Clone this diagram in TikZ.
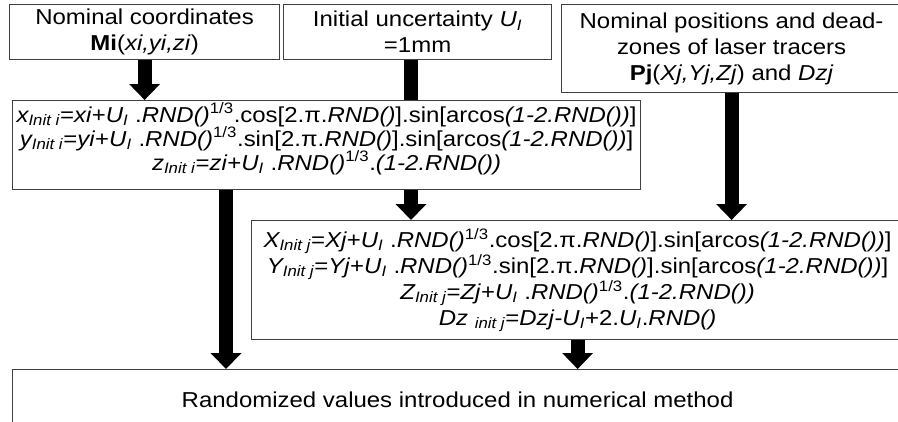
\documentclass[tikz,border=0pt]{standalone}
\usepackage{fontspec}
\setmainfont[FakeStretch=1.11]{Liberation Sans}
\usetikzlibrary{arrows.meta}

\newcommand{\rnd}{\textit{RND()}}
\newcommand{\UI}{\textit{U\textsubscript{I}}}

\tikzset{
  box/.style={draw=black!75, line width=0.9pt, anchor=north west, align=center,
    inner sep=0pt, font=\fontsize{16.2}{19.5}\selectfont},
  fat/.style={line width=10.5pt, -{Triangle[width=22.5pt, length=12pt]}},
  bar/.style={line width=10pt},
}

\begin{document}
\begin{tikzpicture}[x=0.75pt, y=-0.75pt]
  \clip (0,0) rectangle (898,421);
  % Inputs
  \node[box, minimum width=202.5pt, minimum height=41.25pt] (nomM) at (9,4)
    {Nominal coordinates\\\textbf{Mi}(\textit{xi,yi,zi})};
  \node[box, minimum width=201pt, minimum height=41.25pt] (unc) at (283,4)
    {Initial uncertainty \UI\\=1mm};
  \node[box, minimum width=255pt, minimum height=66pt] (nomP) at (561,4)
    {Nominal positions and dead-\\zones of laser tracers\\\textbf{Pj}(\textit{Xj,Yj,Zj}) and \textit{Dzj}};
  % Randomized points (text sits high in its box)
  \node[box, minimum width=471pt, minimum height=66.75pt] (randM) at (12,100) {};
  \node[anchor=north, align=center, inner sep=0pt, font=\fontsize{16.2}{18}\selectfont]
    (randMtxt) at ([yshift=-2pt]randM.north)
    {\textit{x\textsubscript{Init i}}=\textit{xi}+\UI\ .\rnd\textsuperscript{1/3}.cos[2.π.\rnd].sin[arcos\textit{(1-2.RND())}]\\
     \textit{y\textsubscript{Init i}}=\textit{yi}+\UI\ .\rnd\textsuperscript{1/3}.sin[2.π.\rnd].sin[arcos\textit{(1-2.RND())}]\\
     \textit{z\textsubscript{Init i}}=\textit{zi}+\UI\ .\rnd\textsuperscript{1/3}.\textit{(1-2.RND())}};
  % Randomized tracers
  \node[box, minimum width=489pt, minimum height=89.25pt] (randP) at (251,220)
    {\textit{X\textsubscript{Init j}}=\textit{Xj}+\UI\ .\rnd\textsuperscript{1/3}.cos[2.π.\rnd].sin[arcos\textit{(1-2.RND())}]\\
     \textit{Y\textsubscript{Init j}}=\textit{Yj}+\UI\ .\rnd\textsuperscript{1/3}.sin[2.π.\rnd].sin[arcos\textit{(1-2.RND())}]\\
     \textit{Z\textsubscript{Init j}}=\textit{Zj}+\UI\ .\rnd\textsuperscript{1/3}.\textit{(1-2.RND())}\\
     \textit{Dz \textsubscript{init j}}=\textit{Dzj}-\UI+2.\UI.\rnd};
  % Output
  \node[box, minimum width=667.5pt, minimum height=45pt] (result) at (12,369)
    {Randomized values introduced in numerical method};
  % Arrows
  \coordinate (colU) at (411,0);
  \coordinate (colM) at (226,0);
  \draw[fat] (nomM.south) -- (nomM.south |- randM.north);
  \draw[bar] (unc.south -| colU) -- (randM.north -| colU);
  \draw[fat] (nomP.south) -- (nomP.south |- randP.north);
  \draw[fat] (randM.south -| colU) -- (randP.north -| colU);
  \draw[fat] (randM.south -| colM) -- (result.north -| colM);
  \draw[fat] (randP.south) -- (randP.south |- result.north);
\end{tikzpicture}
\end{document}
